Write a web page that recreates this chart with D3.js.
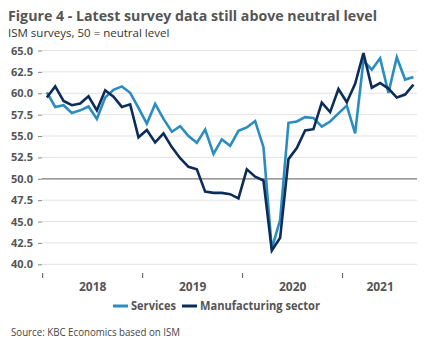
<!DOCTYPE html>
<html>
<head>
<meta charset="utf-8">
<script src="https://cdn.jsdelivr.net/npm/d3@7"></script>
<style>
  body { margin: 0; background: #fff; }
  text { font-family: "Open Sans", Lato, sans-serif; }
</style>
</head>
<body>
<div id="chart"></div>
<script>
// ISM surveys, monthly Jan 2018 - Sep 2021
const months = d3.timeMonth.range(new Date(2018, 0, 1), new Date(2021, 9, 1)).map(d3.timeFormat("%Y-%m"));
const services = [60.1, 58.4, 58.6, 57.7, 58.0, 58.45, 57.0, 59.5, 60.4, 60.8, 60.05, 58.3,
	56.45, 58.75, 57.0, 55.5, 56.15, 55.0, 54.2, 55.75, 52.9, 54.6, 53.85, 55.6,
	56.0, 56.75, 53.7, 41.8, 45.2, 56.55, 56.7, 57.2, 57.1, 56.1, 56.7, 57.65,
	58.55, 55.3, 63.8, 62.75, 64.1, 60.05, 64.2, 61.6, 61.9];
const manufacturing = [59.5, 60.8, 59.1, 58.6, 58.8, 59.65, 58.0, 60.35, 59.6, 58.4, 58.7, 54.85,
	55.7, 54.25, 55.3, 53.7, 52.4, 51.4, 51.1, 48.5, 48.35, 48.35, 48.2, 47.7,
	51.1, 50.25, 49.8, 41.6, 43.1, 52.3, 53.6, 55.65, 55.8, 58.9, 57.8, 60.5,
	58.95, 61.1, 64.7, 60.65, 61.2, 60.55, 59.5, 59.85, 61.0];
const yTicks = [40, 42.5, 45, 47.5, 50, 52.5, 55, 57.5, 60, 62.5, 65];
const years = ["2018", "2019", "2020", "2021"];
const seriesNames = ["Services", "Manufacturing sector"];
const colors = ["#2a8dbf", "#0c2c5a"];

let width = 432, height = 350;
let svg = d3.select("#chart")
	.append("svg")
		.attr("width", width)
		.attr("height", height);

// fit a text element to a measured width
function fit(sel, w) {
	let len = sel.node().getComputedTextLength();
	if (Math.abs(len - w) > 2) sel.attr("textLength", w).attr("lengthAdjust", "spacingAndGlyphs");
}

let title = svg.append("text")
	.attr("x", 8).attr("y", 21)
	.style("font-size", "15px").style("font-weight", "bold").style("fill", "#555")
	.text("Figure 4 - Latest survey data still above neutral level");
fit(title, 369);

let sub = svg.append("text")
	.attr("x", 8).attr("y", 37)
	.style("font-size", "11.5px").style("fill", "#333")
	.text("ISM surveys, 50 = neutral level");
fit(sub, 162);

let x = d3.scaleBand()
	.domain(months)
	.range([42.7, 417.6]);

let y = d3.scaleLinear()
	.domain([40, 65])
	.range([264.3, 50.5]);

// gridlines
svg.append("g")
	.selectAll("line")
	.data(yTicks)
	.enter()
	.append("line")
		.attr("x1", 42).attr("x2", 417)
		.attr("y1", d => y(d)).attr("y2", d => y(d))
		.attr("stroke", d => d == 50 ? "#7a7a7a" : "#e3e3e3")
		.attr("stroke-width", d => d == 50 ? 1.3 : 1);

let yAxis = svg.append("g")
	.attr("transform", "translate(42,0)")
	.call(d3.axisLeft(y).tickValues(yTicks).tickFormat(d3.format(".1f")).tickSize(4).tickPadding(5));
yAxis.select(".domain").remove();
yAxis.selectAll(".tick line").attr("stroke", "#888");
yAxis.selectAll(".tick text")
	.style("font-size", "11px").style("font-weight", "bold").style("fill", "#555")
	.style("font-family", "'Open Sans', sans-serif");

let yearStarts = years.map(yr => yr + "-01");
let xAxis = svg.append("g")
	.attr("transform", "translate(0,273)")
	.call(d3.axisBottom(x).tickValues(yearStarts).tickFormat("").tickSize(5));
xAxis.select(".domain").remove();
xAxis.selectAll(".tick line")
	.attr("transform", "translate(" + (-x.bandwidth() / 2) + ",0)")
	.attr("stroke", "#555");

svg.append("g")
	.selectAll("text")
	.data(years)
	.enter()
	.append("text")
		.attr("x", yr => {
			let ms = months.filter(m => m.startsWith(yr));
			return (x(ms[0]) + x(ms[ms.length - 1]) + x.bandwidth()) / 2;
		})
		.attr("y", 291)
		.attr("text-anchor", "middle")
		.style("font-size", "12px").style("font-weight", "bold").style("fill", "#555")
		.text(d => d);

let line = d3.line()
	.x((d, i) => x(months[i]) + x.bandwidth() / 2)
	.y(d => y(d));

[services, manufacturing].forEach((s, k) => {
	svg.append("path")
		.datum(s)
		.attr("d", line)
		.attr("fill", "none")
		.attr("stroke", colors[k])
		.attr("stroke-width", 2.6)
		.attr("stroke-linejoin", "miter");
});

// legend
let legend = svg.append("g");
let lx = [113, 182];
seriesNames.forEach((n, k) => {
	legend.append("rect")
		.attr("x", lx[k]).attr("y", 304.5)
		.attr("width", 15).attr("height", 3)
		.attr("fill", colors[k]);
	let t = legend.append("text")
		.attr("x", lx[k] + 18).attr("y", 310)
		.style("font-size", "12px").style("font-weight", "bold").style("fill", "#555")
		.text(n);
	fit(t, k == 0 ? 45 : 120);
});

let src = svg.append("text")
	.attr("x", 11).attr("y", 336)
	.style("font-size", "10px").style("fill", "#444")
	.text("Source: KBC Economics based on ISM");
fit(src, 169);
</script>
</body>
</html>
